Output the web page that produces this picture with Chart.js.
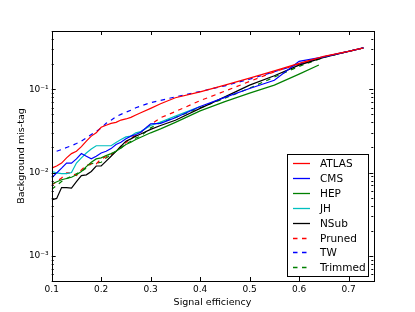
<!doctype html>
<html>
<head>
  <meta charset="utf-8" />
  <title>Background mis-tag vs signal efficiency</title>
  <script src="https://cdn.jsdelivr.net/npm/chart.js@4.4.1/dist/chart.umd.min.js"></script>
  <style>
    html, body { margin:0; padding:0; background:#fff; }
    #wrap { width:415px; height:312px; }
  </style>
</head>
<body>
<div id="wrap"><canvas id="myChart" width="415" height="312"></canvas></div>

<script>
// signal efficiency grid shared by most taggers
const eff = [0.10,0.11,0.12,0.13,0.14,0.15,0.16,0.17,0.18,0.19,0.20,0.21,0.22,0.23,0.24,0.25,0.26,0.27,0.28,0.30,0.32,0.35,0.40,0.45,0.50,0.55,0.60,0.65,0.70,0.73];

const atlas   = [0.0113,0.012,0.013,0.015,0.0169,0.018,0.0205,0.0238,0.0274,0.030,0.035,0.037,0.039,0.040,0.0427,0.044,0.046,0.049,0.0523,0.059,0.067,0.079,0.093,0.112,0.136,0.166,0.204,0.248,0.285,0.313];
const cms     = [0.0086,0.0099,0.0113,0.013,0.013,0.0146,0.0169,0.0157,0.0146,0.0157,0.0172,0.018,0.0194,0.0217,0.0231,0.0254,0.0274,0.0286,0.0305,0.0385,0.039,0.0455,0.062,0.080,0.102,0.128,0.216,0.245,0.285,0.313];
const nsub    = [0.0047,0.0049,0.0066,0.0066,0.0065,0.0078,0.0092,0.0094,0.0103,0.012,0.012,0.0137,0.0157,0.018,0.0207,0.0238,0.0254,0.0274,0.029,0.033,0.0367,0.0425,0.059,0.081,0.112,0.145,0.195,0.241,0.285,0.313];
const pruned  = [0.0071,0.0078,0.0086,0.0099,0.0099,0.0092,0.0108,0.0122,0.0127,0.0127,0.0146,0.0155,0.0164,0.018,0.0207,0.023,0.026,0.028,0.0305,0.0378,0.0455,0.054,0.073,0.095,0.124,0.162,0.200,0.245,0.285,0.313];
const tw      = [null,0.018,0.0189,0.020,0.021,0.0223,0.0238,0.026,0.0286,0.031,0.0344,0.039,0.0425,0.047,0.050,0.053,0.056,0.060,0.063,0.069,0.0735,0.081,0.094,0.110,0.132,0.162,0.200,0.245,0.285,0.313];
const trimmed = [0.0063,0.007,0.0078,0.0085,0.009,0.0097,0.0103,0.0113,0.0128,0.013,0.0133,0.015,0.0164,0.018,0.0197,0.022,0.0238,0.026,0.0274,0.0344,0.040,0.046,0.060,0.078,0.103,0.140,0.188,0.241,0.285,0.313];

const hepEff  = [0.10,0.12,0.14,0.15,0.16,0.17,0.18,0.19,0.20,0.21,0.22,0.23,0.24,0.25,0.26,0.27,0.28,0.30,0.32,0.35,0.40,0.45,0.50,0.55,0.60,0.64];
const hep     = [0.0073,0.0082,0.0088,0.0094,0.0103,0.0118,0.0133,0.0146,0.015,0.016,0.0169,0.018,0.0197,0.0217,0.0231,0.0249,0.0266,0.030,0.0335,0.040,0.055,0.071,0.090,0.112,0.152,0.195];

const jhEff   = [0.10,0.11,0.12,0.13,0.14,0.15,0.16,0.17,0.18,0.19,0.20,0.21,0.22,0.23,0.24,0.25,0.26,0.27,0.28,0.30,0.32,0.35,0.40];
const jh      = [0.0103,0.0099,0.0097,0.0097,0.010,0.013,0.015,0.0172,0.0192,0.021,0.021,0.021,0.021,0.023,0.0249,0.0268,0.0274,0.030,0.031,0.0367,0.0403,0.0476,0.062];

const xTicks = [0.1,0.2,0.3,0.4,0.5,0.6,0.7];
const xTickLabels = ["0.1","0.2","0.3","0.4","0.5","0.6","0.7"];
const yTicks = [1e-3,1e-2,1e-1];
const yTickLabels = ["10\u207B\u00B3","10\u207B\u00B2","10\u207B\u00B9"];

function pts(xs, ys) {
  return xs.map((x, i) => ({x: x, y: ys[i]}));
}

const series = [
  {label: "ATLAS",   x: eff,    y: atlas,   color: "#ff0000", dash: []},
  {label: "CMS",     x: eff,    y: cms,     color: "#0000ff", dash: []},
  {label: "HEP",     x: hepEff, y: hep,     color: "#008000", dash: []},
  {label: "JH",      x: jhEff,  y: jh,      color: "#00bfbf", dash: []},
  {label: "NSub",    x: eff,    y: nsub,    color: "#000000", dash: []},
  {label: "Pruned",  x: eff,    y: pruned,  color: "#ff0000", dash: [4.5,4.5]},
  {label: "TW",      x: eff,    y: tw,      color: "#0000ff", dash: [4.5,4.5]},
  {label: "Trimmed", x: eff,    y: trimmed, color: "#008000", dash: [4.5,4.5]}
];

const FONT = "'DejaVu Sans', sans-serif";

// inward ticks on all four sides, axes frame and the boxed legend
const decor = {
  id: "decor",
  afterDraw(chart) {
    const c = chart.ctx, a = chart.chartArea;
    const xs = chart.scales.x, ys = chart.scales.y;
    c.save();
    c.strokeStyle = "#000";
    c.lineWidth = 1;
    c.setLineDash([]);
    c.beginPath();
    xTicks.forEach(v => {
      const px = Math.round(xs.getPixelForValue(v)) + 0.5;
      c.moveTo(px, a.bottom); c.lineTo(px, a.bottom - 4);
      c.moveTo(px, a.top); c.lineTo(px, a.top + 4);
    });
    for (let e = -4; e <= 0; e++) {
      for (let m = 1; m <= 9; m++) {
        const v = m * Math.pow(10, e);
        if (v < ys.min || v > ys.max) continue;
        const py = Math.round(ys.getPixelForValue(v)) + 0.5;
        const len = m === 1 ? 4 : 2;
        c.moveTo(a.left, py); c.lineTo(a.left + len, py);
        c.moveTo(a.right, py); c.lineTo(a.right - len, py);
      }
    }
    c.stroke();
    c.strokeRect(Math.round(a.left) + 0.5, Math.round(a.top) + 0.5,
                 Math.round(a.right - a.left), Math.round(a.bottom - a.top));

    // legend
    const bx = 287, by = 154, bw = 81, bh = 122;
    c.fillStyle = "#fff";
    c.fillRect(bx, by, bw, bh);
    c.strokeStyle = "#000";
    c.strokeRect(bx + 0.5, by + 0.5, bw, bh);
    c.font = "10.5px " + FONT;
    c.textBaseline = "middle";
    c.lineWidth = 1.3;
    series.forEach((s, i) => {
      const ry = Math.round(by + 9 + i * 14.9) + 0.5;
      c.strokeStyle = s.color;
      c.setLineDash(s.dash);
      c.beginPath();
      c.moveTo(293, ry); c.lineTo(310, ry);
      c.stroke();
      c.fillStyle = "#000";
      c.fillText(s.label, 320, ry + 0.5);
    });
    c.restore();
  }
};

new Chart("myChart", {
  type: "line",
  data: {
    datasets: series.map(s => ({
      label: s.label,
      data: pts(s.x, s.y),
      borderColor: s.color,
      borderDash: s.dash,
      borderWidth: 1.2,
      pointRadius: 0,
      fill: false,
      tension: 0,
      spanGaps: false
    }))
  },
  options: {
    responsive: false,
    animation: false,
    devicePixelRatio: 1,
    layout: {padding: {left: 15, right: 41.7, top: 31, bottom: 4}},
    plugins: {legend: {display: false}, tooltip: {enabled: false}},
    scales: {
      x: {
        type: "linear",
        min: 0.1,
        max: 0.75,
        grid: {display: false, drawTicks: false, tickLength: 0},
        border: {display: false},
        afterBuildTicks: s => { s.ticks = xTicks.map(v => ({value: v})); },
        afterFit: s => { s.height = 27; },
        ticks: {
          padding: 3,
          color: "#000",
          font: {family: FONT, size: 9},
          maxRotation: 0,
          callback: (v) => xTickLabels[xTicks.indexOf(v)] ?? ""
        },
        title: {display: true, text: "Signal efficiency", color: "#000",
                font: {family: FONT, size: 9.5}, padding: {top: 0, bottom: 0}}
      },
      y: {
        type: "logarithmic",
        min: 5e-4,
        max: 0.5,
        grid: {display: false, drawTicks: false, tickLength: 0},
        border: {display: false},
        afterBuildTicks: s => { s.ticks = yTicks.map(v => ({value: v})); },
        afterFit: s => { s.width = 36.7; },
        ticks: {
          padding: 3,
          color: "#000",
          font: {family: FONT, size: 9},
          callback: (v) => yTickLabels[yTicks.indexOf(v)] ?? ""
        },
        title: {display: true, text: "Background mis-tag", color: "#000",
                font: {family: FONT, size: 9.5}, padding: {top: 1, bottom: 0}}
      }
    }
  },
  plugins: [decor]
});
</script>
</body>
</html>
